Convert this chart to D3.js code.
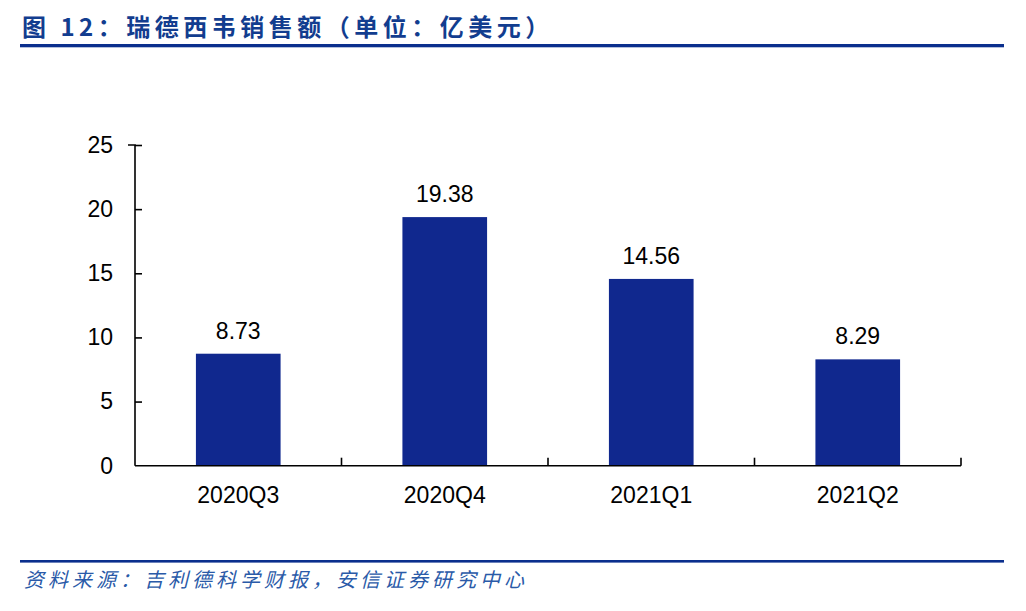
<!DOCTYPE html>
<html>
<head>
<meta charset="utf-8">
<script src="https://cdn.jsdelivr.net/npm/d3@7"></script>
<style>
  body { margin: 0; background: #fff; }
  text { font-family: "Liberation Sans", Arial, sans-serif; }
</style>
</head>
<body>
<div id="chart"></div>
<script>
// chart data
var quarters = ["2020Q3", "2020Q4", "2021Q1", "2021Q2"];
var sales = [8.73, 19.38, 14.56, 8.29];
var yTicks = [0, 5, 10, 15, 20, 25];
var titleText = "图 12：瑞德西韦销售额（单位：亿美元）";
var sourceText = "资料来源：吉利德科学财报，安信证券研究中心";

var svgWidth = 1026;
var svgHeight = 611;

// plot area
var plot = { left: 135, right: 961, top: 145, bottom: 465.7 };

var svg = d3.select("#chart")
    .append("svg")
    .attr("width", svgWidth)
    .attr("height", svgHeight);

// title and rule
svg.append("text")
    .attr("x", 22)
    .attr("y", 36)
    .attr("fill", "#123d8f")
    .style("font-family", "'Noto Sans CJK SC', sans-serif")
    .style("font-size", "24px")
    .style("font-weight", "bold")
    .style("letter-spacing", "4.5px")
    .text(titleText);

svg.append("rect")
    .attr("x", 20).attr("y", 44)
    .attr("width", 984).attr("height", 3.3)
    .attr("fill", "#0b2f8d");

// footer
svg.append("rect")
    .attr("x", 20).attr("y", 560)
    .attr("width", 984).attr("height", 2.6)
    .attr("fill", "#0b2f8d");

svg.append("text")
    .attr("x", 24)
    .attr("y", 587)
    .attr("fill", "#2a5aa8")
    .style("font-family", "'Noto Sans CJK SC', sans-serif")
    .style("font-size", "20px")
    .style("font-style", "italic")
    .style("letter-spacing", "4px")
    .text(sourceText);

// scales
var x = d3.scaleBand()
    .domain(quarters)
    .range([plot.left, plot.right])
    .paddingInner(0.59)
    .paddingOuter(0.295);

var y = d3.scaleLinear()
    .domain([0, 25])
    .range([plot.bottom, plot.top]);

// bars
svg.selectAll("rect.bar")
    .data(quarters)
    .enter()
    .append("rect")
    .attr("class", "bar")
    .attr("x", d => x(d))
    .attr("y", (d, i) => y(sales[i]))
    .attr("width", x.bandwidth())
    .attr("height", (d, i) => y(0) - y(sales[i]))
    .attr("fill", "#10288e");

// value labels
svg.selectAll("text.val")
    .data(quarters)
    .enter()
    .append("text")
    .attr("class", "val")
    .attr("x", d => x(d) + x.bandwidth() / 2)
    .attr("y", (d, i) => y(sales[i]) - 15)
    .attr("text-anchor", "middle")
    .style("font-size", "23px")
    .attr("fill", "#000")
    .text((d, i) => sales[i].toFixed(2));

// y axis, ticks point inward
var leftAxis = d3.axisLeft(y)
    .tickValues(yTicks)
    .tickSize(-7)
    .tickPadding(22)
    .tickFormat(d3.format("d"));

var yAxisG = svg.append("g")
    .attr("transform", `translate(${plot.left},0)`)
    .call(leftAxis);
yAxisG.select(".domain").attr("stroke", "#000").attr("stroke-width", 1.6).attr("d", `M-7,${plot.top}H0V${plot.bottom}`);
yAxisG.selectAll(".tick line").attr("stroke", "#000").attr("stroke-width", 1.6);
yAxisG.selectAll(".tick text")
    .style("font-size", "23px")
    .style("font-family", "'Liberation Sans', Arial, sans-serif")
    .attr("fill", "#000");
// the x axis covers the zero tick
yAxisG.selectAll(".tick line").filter(d => d === 0).remove();

// x axis line with separators between categories
var step = x.step();
var bottomAxis = d3.axisBottom(x).tickSize(0).tickPadding(21);
var xAxisG = svg.append("g")
    .attr("transform", `translate(0,${plot.bottom})`)
    .call(bottomAxis);
xAxisG.select(".domain").attr("stroke", "#000").attr("stroke-width", 1.6)
    .attr("d", `M${plot.left},0H${plot.right}`);
xAxisG.selectAll(".tick text")
    .style("font-size", "23px")
    .style("font-family", "'Liberation Sans', Arial, sans-serif")
    .attr("fill", "#000");

xAxisG.selectAll("line.sep")
    .data(quarters)
    .enter()
    .append("line")
    .attr("class", "sep")
    .attr("x1", d => x(d) + x.bandwidth() + (step - x.bandwidth()) / 2)
    .attr("x2", d => x(d) + x.bandwidth() + (step - x.bandwidth()) / 2)
    .attr("y1", 0)
    .attr("y2", -8)
    .attr("stroke", "#000")
    .attr("stroke-width", 1.6);
</script>
</body>
</html>
